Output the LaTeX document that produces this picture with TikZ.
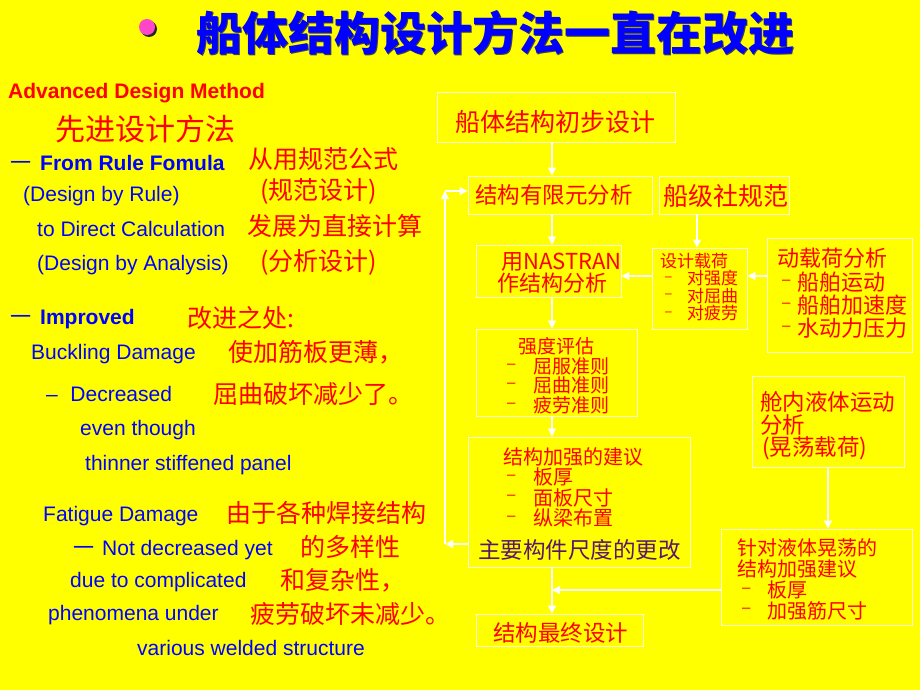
\documentclass[tikz,border=0pt]{standalone}
\usepackage{fontspec}
\setmainfont{Liberation Sans}
\newfontfamily\cjk{Noto Sans CJK SC}
\usetikzlibrary{arrows.meta}
\definecolor{bg}{RGB}{255,255,0}
\definecolor{txtblue}{RGB}{0,0,255}
\definecolor{boxc}{RGB}{255,255,215}
\definecolor{purp}{RGB}{90,20,110}
\definecolor{pinkb}{RGB}{255,70,200}
\newcommand\myzh[1]{\cjk\fontsize{#1}{#1}\selectfont}
\newcommand\myen[1]{\fontsize{#1}{#1}\selectfont}
\tikzset{
  bx/.style={draw=boxc, line width=0.9pt, inner sep=0pt},
  arr/.style={draw=white, line width=1.1pt, -{Triangle[length=8pt,width=8pt]}},
  en/.style={inner sep=0pt, anchor=base west, text=txtblue, font=\myen{21}},
  enb/.style={inner sep=0pt, anchor=base west, text=txtblue, font=\bfseries\myen{21}},
  zh/.style={inner sep=0pt, anchor=west, text=red, font=\myzh{#1}},
  zh/.default=25,
  ldash/.style={inner sep=0pt, anchor=base west, text=txtblue, font=\myzh{21}},
  bdash/.style={inner sep=0pt, anchor=west, text=red, font=\myen{15}},
  ttl/.style={anchor=west, inner sep=0pt, font=\cjk\bfseries\fontsize{46}{46}\selectfont},
}
\begin{document}
\begin{tikzpicture}[x=1pt,y=-1pt]
\fill[bg] (0,0) rectangle (920,690);
\useasboundingbox (0,0) rectangle (920,690);

% title
\node[circle, fill=black!85, minimum size=16pt, inner sep=0pt] (bulsh) at (149,29) {};
\node[circle, fill=pinkb, minimum size=16pt, inner sep=0pt] (bul) at (147,27) {};
\node[ttl, text=black!75] (titlesh) at (197.3,34.3) {船体结构设计方法一直在改进};
\node[ttl, text=txtblue] (title) at (196,33) {船体结构设计方法一直在改进};

% left column
\node[enb, text=red] (adm) at (8,98.3) {Advanced Design Method};
\node[zh=30] (xj) at (55,129) {先进设计方法};
\node[ldash] (d1) at (10,170) {一};
\node[enb] (frf) at (40,170) {From Rule Fomula};
\node[zh] (c1) at (248,159) {从用规范公式};
\node[en] (dbr) at (23,201.7) {(Design by Rule)};
\node[zh] (c2) at (260,191) {(规范设计)};
\node[en] (tdc) at (37,236.7) {to Direct Calculation};
\node[zh] (c3) at (247,226) {发展为直接计算};
\node[en] (dba) at (37,270) {(Design by Analysis)};
\node[zh] (c4) at (260,262) {(分析设计)};

\node[ldash] (d2) at (10,324) {一};
\node[enb] (imp) at (40,324) {Improved};
\node[zh] (c5) at (187,318) {改进之处:};
\node[en] (bd) at (31,359.3) {Buckling Damage};
\node[zh] (c6) at (228,352) {使加筋板更薄，};
\node[en] (dec) at (46,401.7) {–\hspace{0.6em}Decreased};
\node[zh] (c7) at (213,394) {屈曲破坏减少了。};
\node[en] (et) at (80,435) {even though};
\node[en] (tsp) at (85,470) {thinner stiffened panel};

\node[en] (fd) at (43,521.7) {Fatigue Damage};
\node[zh] (c8) at (226,513) {由于各种焊接结构};
\node[ldash] (d3) at (73,555) {一};
\node[en] (ndy) at (102,555) {Not decreased yet};
\node[zh] (c9) at (300,547) {的多样性};
\node[en] (dtc) at (70,587.3) {due to complicated};
\node[zh] (c10) at (280,580) {和复杂性，};
\node[en] (phu) at (48,620.7) {phenomena under};
\node[zh] (c11) at (250,614) {疲劳破坏未减少。};
\node[en] (vws) at (137,655) {various welded structure};

% boxes
\node[bx, minimum width=238pt, minimum height=50pt] (b1) at (556,117) {};
\node[bx, minimum width=184pt, minimum height=38pt] (b2) at (560,195) {};
\node[bx, minimum width=130pt, minimum height=38pt] (b3) at (724,195) {};
\node[bx, minimum width=145pt, minimum height=52pt] (b4) at (548.5,271) {};
\node[bx, minimum width=95pt, minimum height=81pt] (b5) at (699.5,288.5) {};
\node[bx, minimum width=145pt, minimum height=114pt] (b6) at (839.5,295) {};
\node[bx, minimum width=161pt, minimum height=87pt] (b7) at (556.5,372.5) {};
\node[bx, minimum width=222pt, minimum height=130pt] (b8) at (579,502) {};
\node[bx, minimum width=167pt, minimum height=32pt] (b9) at (559.5,630) {};
\node[bx, minimum width=152pt, minimum height=91pt] (b10) at (828,421.5) {};
\node[bx, minimum width=191pt, minimum height=96pt] (b11) at (816.5,577) {};

% box texts
\node[zh=25] (t1) at (455,122) {船体结构初步设计};
\node[zh=22.5] (t2) at (475,195) {结构有限元分析};
\node[zh=25] (t3) at (663,196) {船级社规范};
\node[zh=22] (t4a) at (501,261.5) {用NASTRAN};
\node[zh=22] (t4b) at (497,283.5) {作结构分析};

\node[zh=17] (t5a) at (660,261) {设计载荷};
\node[bdash, font=\myen{12}] (t5d1) at (665,278.5) {–};
\node[bdash, font=\myen{12}] (t5d2) at (665,296) {–};
\node[bdash, font=\myen{12}] (t5d3) at (665,313.5) {–};
\node[zh=17] (t5b) at (687,278.5) {对强度};
\node[zh=17] (t5c) at (687,296) {对屈曲};
\node[zh=17] (t5e) at (687,313.5) {对疲劳};

\node[zh=22] (t6a) at (777,258) {动载荷分析};
\node[bdash] (t6d1) at (782,282) {–};
\node[bdash] (t6d2) at (782,305) {–};
\node[bdash] (t6d3) at (782,328) {–};
\node[zh=22] (t6b) at (797,282) {船舶运动};
\node[zh=22] (t6c) at (797,305) {船舶加速度};
\node[zh=22] (t6e) at (797,328) {水动力压力};

\node[zh=19] (t7a) at (518,346.5) {强度评估};
\node[bdash] (t7d1) at (507,366) {–};
\node[bdash] (t7d2) at (507,385.5) {–};
\node[bdash] (t7d3) at (507,405) {–};
\node[zh=19] (t7b) at (533,366) {屈服准则};
\node[zh=19] (t7c) at (533,385.5) {屈曲准则};
\node[zh=19] (t7e) at (533,405) {疲劳准则};

\node[zh=20] (t8a) at (503,457) {结构加强的建议};
\node[bdash] (t8d1) at (507,477) {–};
\node[bdash] (t8d2) at (507,497.5) {–};
\node[bdash] (t8d3) at (507,518) {–};
\node[zh=20] (t8b) at (533,477) {板厚};
\node[zh=20] (t8c) at (533,497.5) {面板尺寸};
\node[zh=20] (t8e) at (533,518) {纵梁布置};
\node[zh=22.5, text=purp] (t8f) at (478,550) {主要构件尺度的更改};

\node[zh=22.5] (t9) at (493,633) {结构最终设计};

\node[zh=22.5] (t10a) at (760,402) {舱内液体运动};
\node[zh=22.5] (t10b) at (760,425) {分析};
\node[zh=22.5] (t10c) at (762,448) {(晃荡载荷)};

\node[zh=20] (t11a) at (737,548) {针对液体晃荡的};
\node[zh=20] (t11b) at (737,569) {结构加强建议};
\node[bdash] (t11d1) at (742,590) {–};
\node[bdash] (t11d2) at (742,610.5) {–};
\node[zh=20] (t11c) at (767,590) {板厚};
\node[zh=20] (t11e) at (767,610.5) {加强筋尺寸};

% guide coordinates
\coordinate (colx) at (552,0);
\coordinate (colr) at (697,0);
\coordinate (fb) at (445,0);
\coordinate (rowa) at (0,276);
\coordinate (rowb) at (0,590);
\coordinate (rowc) at (0,544);
\coordinate (rowd) at (0,191);

% connectors
\draw[arr] (b1.south -| colx) -- (b2.north -| colx);
\draw[arr] (b2.south -| colx) -- (b4.north -| colx);
\draw[arr] (b4.south -| colx) -- (b7.north -| colx);
\draw[arr] (b7.south -| colx) -- (b8.north -| colx);
\draw[arr] (b8.south -| colx) -- (b9.north -| colx);
\draw[arr] (b3.south -| colr) -- (b5.north -| colr);
\draw[arr] (b5.west |- rowa) -- (b4.east |- rowa);
\draw[arr] (b6.west |- rowa) -- (b5.east |- rowa);
\draw[arr] (b10.south) -- (b11.north -| b10.south);
\draw[arr] (b11.west |- rowb) -- (colx |- rowb);
\draw[arr] (b8.west |- rowc) -- (fb |- rowc);
\draw[arr] (fb |- rowc) -- (fb |- rowd);
\draw[arr] (fb |- rowd) -- (b2.west |- rowd);
\end{tikzpicture}
\end{document}
